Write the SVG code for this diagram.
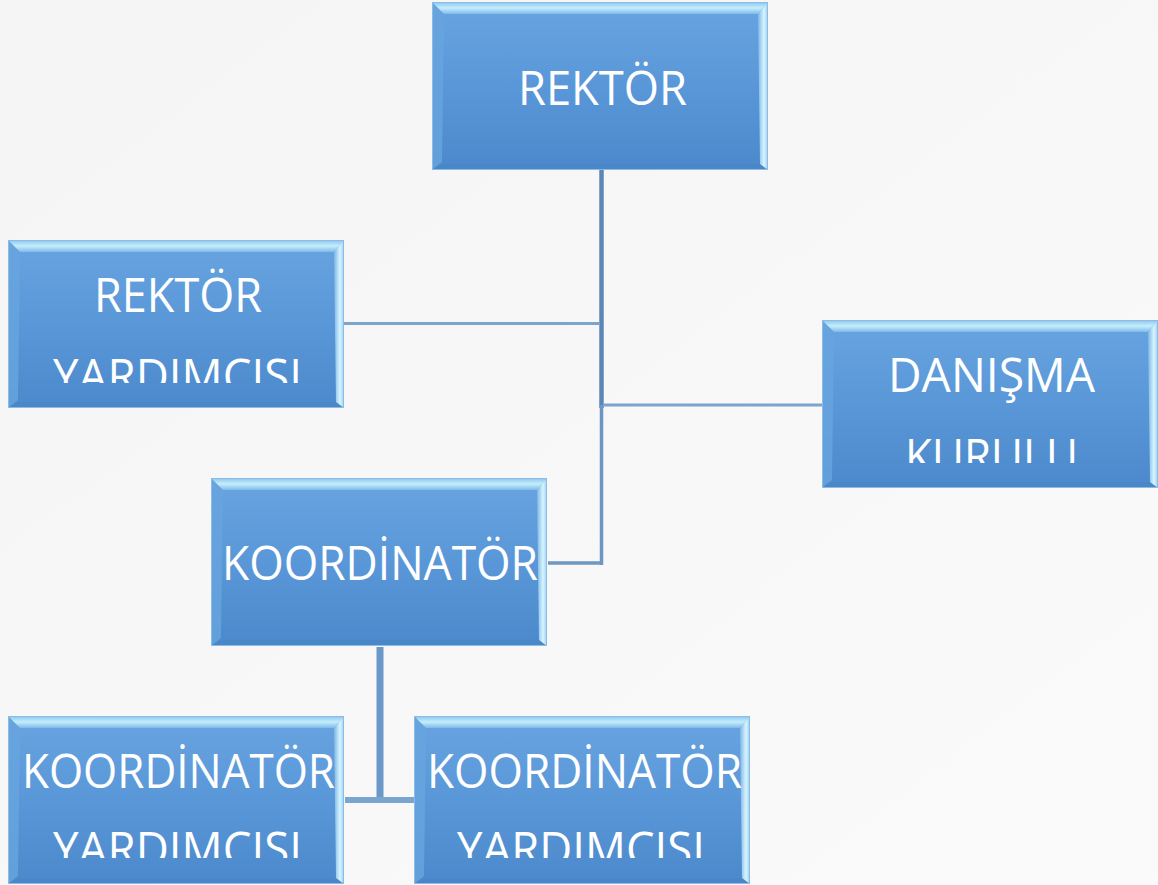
<svg xmlns="http://www.w3.org/2000/svg" width="1158" height="885" viewBox="0 0 1158 885">
  <defs>
    <linearGradient id="bg" x1="0" y1="0" x2="1" y2="1">
      <stop offset="0" stop-color="#f5f5f5"/>
      <stop offset="1" stop-color="#fafafa"/>
    </linearGradient>
    <linearGradient id="fill" x1="0" y1="0" x2="0" y2="1">
      <stop offset="0" stop-color="#68a4e0"/>
      <stop offset="0.5" stop-color="#5a97d8"/>
      <stop offset="1" stop-color="#4b89cc"/>
    </linearGradient>
    <linearGradient id="topBevel" x1="0" y1="0" x2="0" y2="1">
      <stop offset="0" stop-color="#8cc4ee"/>
      <stop offset="0.5" stop-color="#c4eefc"/>
      <stop offset="1" stop-color="#80b9e8"/>
    </linearGradient>
    <linearGradient id="rightBevel" x1="0" y1="0" x2="1" y2="0">
      <stop offset="0" stop-color="#7eb6e6"/>
      <stop offset="0.6" stop-color="#d6f6ff"/>
      <stop offset="1" stop-color="#9ccbee"/>
    </linearGradient>
    <g id="box">
      <rect x="0" y="0" width="336" height="168" fill="url(#fill)"/>
      <polygon points="0,0 12,12 10,160 0,168" fill="#68a5df" opacity="0.8"/>
      <polygon points="0,0 336,0 326,12 12,12" fill="url(#topBevel)"/>
      <polygon points="0,168 336,168 328,162 10,162" fill="#4a87c9"/>
      <polygon points="336,0 336,168 328,162 326,12" fill="url(#rightBevel)"/>
      <rect x="0.5" y="0.5" width="335" height="167" fill="none" stroke="#8dbbe6" stroke-width="1"/>
    </g>
    <clipPath id="c-ry"><rect x="8" y="240" width="336" height="143"/></clipPath>
    <clipPath id="c-dk"><rect x="822" y="320" width="336" height="143"/></clipPath>
    <clipPath id="c-kyl"><rect x="8" y="716" width="337" height="142"/></clipPath>
    <clipPath id="c-kyr"><rect x="414" y="716" width="337" height="142"/></clipPath>
  </defs>
  <style>
    .lbl { font-family: "Open Sans", "Liberation Sans", sans-serif; font-size: 47px; fill: #ffffff; text-anchor: middle; }
    .conn { fill: none; stroke-linecap: butt; }
  </style>
  <rect x="0" y="0" width="1158" height="885" fill="url(#bg)"/>

  <g id="connectors" class="conn">
    <line x1="601.5" y1="170" x2="601.5" y2="408" stroke="#5b87b6" stroke-width="4.5"/>
    <line x1="601.5" y1="405" x2="601.5" y2="565" stroke="#6c95c2" stroke-width="3.5"/>
    <line x1="344" y1="323.5" x2="600" y2="323.5" stroke="#7ca4cd" stroke-width="3"/>
    <line x1="603" y1="405" x2="822" y2="405" stroke="#7ca4cd" stroke-width="3"/>
    <line x1="548" y1="563" x2="603" y2="563" stroke="#6e97c3" stroke-width="3.5"/>
    <line x1="380" y1="647" x2="380" y2="803" stroke="#6a98c8" stroke-width="7"/>
    <line x1="345" y1="800" x2="414" y2="800" stroke="#7aa5cf" stroke-width="6"/>
  </g>

  <g id="node-rektor">
    <use href="#box" x="432" y="2"/>
    <text class="lbl" x="602.5" y="105" textLength="169" lengthAdjust="spacingAndGlyphs">REKTÖR</text>
  </g>

  <g id="node-rektor-yardimcisi">
    <use href="#box" x="8" y="240"/>
    <g clip-path="url(#c-ry)">
      <text class="lbl" x="178" y="312" textLength="168" lengthAdjust="spacingAndGlyphs">REKTÖR</text>
      <text class="lbl" x="177.5" y="393" textLength="249" lengthAdjust="spacingAndGlyphs">YARDIMCISI</text>
    </g>
  </g>

  <g id="node-danisma-kurulu">
    <use href="#box" x="822" y="320"/>
    <g clip-path="url(#c-dk)">
      <text class="lbl" x="991.5" y="392" textLength="207" lengthAdjust="spacingAndGlyphs">DANIŞMA</text>
      <text class="lbl" x="991.5" y="473" textLength="173" lengthAdjust="spacingAndGlyphs">KURULU</text>
    </g>
  </g>

  <g id="node-koordinator">
    <use href="#box" x="211" y="478"/>
    <text class="lbl" x="380" y="580" textLength="316" lengthAdjust="spacingAndGlyphs">KOORDİNATÖR</text>
  </g>

  <g id="node-koordinator-yardimcisi-1">
    <use href="#box" x="8" y="716"/>
    <g clip-path="url(#c-kyl)">
      <text class="lbl" x="178.5" y="788" textLength="313" lengthAdjust="spacingAndGlyphs">KOORDİNATÖR</text>
      <text class="lbl" x="177.5" y="866" textLength="249" lengthAdjust="spacingAndGlyphs">YARDIMCISI</text>
    </g>
  </g>

  <g id="node-koordinator-yardimcisi-2">
    <use href="#box" x="414" y="716"/>
    <g clip-path="url(#c-kyr)">
      <text class="lbl" x="584.5" y="788" textLength="315" lengthAdjust="spacingAndGlyphs">KOORDİNATÖR</text>
      <text class="lbl" x="581" y="866" textLength="248" lengthAdjust="spacingAndGlyphs">YARDIMCISI</text>
    </g>
  </g>
</svg>
